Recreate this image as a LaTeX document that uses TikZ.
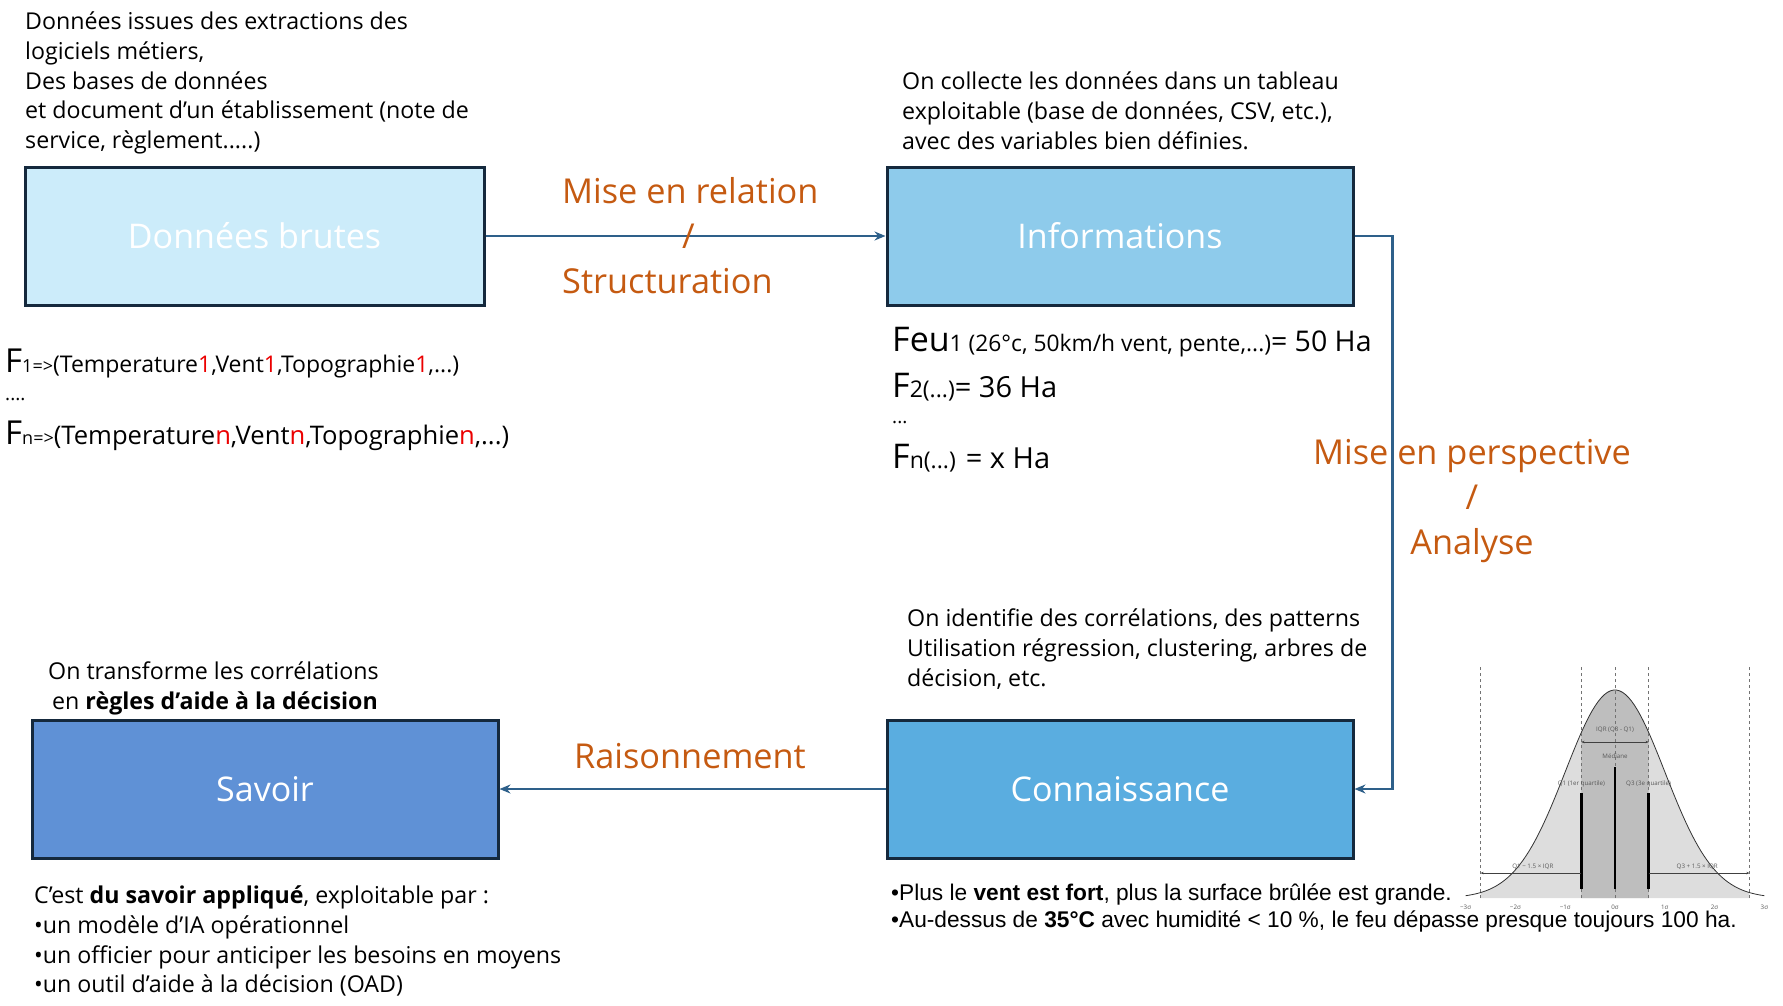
\documentclass[tikz,border=0pt]{standalone}
\usepackage{fontspec}
\setmainfont{Open Sans}
\newfontfamily\arialfont{Liberation Sans}
\usepackage{tikz}
\usetikzlibrary{arrows.meta, positioning}
\definecolor{boxborder}{RGB}{21,41,61}
\definecolor{brutescolor}{RGB}{204,236,250}
\definecolor{infocolor}{RGB}{142,203,235}
\definecolor{conncolor}{RGB}{90,173,224}
\definecolor{savoircolor}{RGB}{95,145,214}
\definecolor{arrowcolor}{RGB}{46,96,138}
\definecolor{labelcolor}{RGB}{197,90,17}
\definecolor{subred}{RGB}{235,0,0}
\definecolor{bellfill}{RGB}{221,221,221}
\definecolor{iqrfill}{RGB}{190,190,190}
\newcommand{\bodysize}{\fontsize{23.2}{29.6}\selectfont}
\newcommand{\titlesize}{\fontsize{34}{40}\selectfont}
\newcommand{\linksize}{\fontsize{34.3}{45}\selectfont}
\newcommand{\redsub}[1]{\textcolor{subred}{#1}}

\begin{document}
\begin{tikzpicture}[
    x=1pt, y=-1pt,
    stage/.style={draw=boxborder, line width=3pt, minimum width=466pt,
                  minimum height=138pt, text=white, font=\titlesize},
    arr/.style={-{Stealth[length=11pt,width=9pt]}, line width=2.4pt, arrowcolor},
    note/.style={anchor=north west, align=left, inner sep=0pt, font=\bodysize},
    link/.style={text=labelcolor, font=\linksize, inner sep=0pt},
    formula/.style={anchor=base west, inner sep=0pt},
    tiny/.style={font=\fontsize{6.2}{7}\selectfont, text=black!65, inner sep=0pt},
    thinarr/.style={-{Stealth[length=3pt,width=2.5pt]}, line width=0.5pt, black!75}
]
\useasboundingbox (0,0) rectangle (1783,1006);
% Stages
\node[stage, fill=brutescolor, minimum width=459pt] (brutes) at (254.5,236) {Données brutes};
\node[stage, fill=infocolor, right=400pt of brutes] (info) {Informations};
\node[stage, fill=conncolor, below=412pt of info] (conn) {Connaissance};
\node[stage, fill=savoircolor, left=386pt of conn] (savoir) {Savoir};
% Notes
\node[note] (txtbrutes) at (25,12) {Données issues des extractions des\\logiciels métiers,\\Des bases de données\\et document d’un établissement (note de\\service, règlement.....)};
\node[note] (txtinfo) at (902,72) {On collecte les données dans un tableau\\exploitable (base de données, CSV, etc.),\\avec des variables bien définies.};
\node[note] (txtconn) at (907,609) {On identifie des corrélations, des patterns\\Utilisation régression, clustering, arbres de\\décision, etc.};
\node[note] (txtsavoir) at (48,662) {On transforme les corrélations\\\hspace*{4pt}en \textbf{règles d’aide à la décision}};
\node[note] (txtapplique) at (34,886) {C’est \textbf{du savoir appliqué}, exploitable par :\\•un modèle d’IA opérationnel\\•un officier pour anticiper les besoins en moyens\\•un outil d’aide à la décision (OAD)};
\node[note, font=\arialfont\fontsize{22.7}{27}\selectfont] (txtresult) at (891,884) {•Plus le \textbf{vent est fort}, plus la surface brûlée est grande.\\•Au-dessus de \textbf{35°C} avec humidité < 10 \%, le feu dépasse presque toujours 100 ha.};
% Formulas
\node[formula] (fleft1) at (5,372) {\fontsize{33}{33}\selectfont F\fontsize{18}{18}\selectfont 1=>\fontsize{23}{23}\selectfont(Temperature\redsub{1},Vent\redsub{1},Topographie\redsub{1},...)};
\node[formula] (fleft2) at (5,400) {\fontsize{19}{19}\selectfont ....};
\node[formula] (fleft3) at (5,444) {\fontsize{33}{33}\selectfont F\fontsize{18}{18}\selectfont n=>\fontsize{25.6}{25.6}\selectfont(Temperature\redsub{n},Vent\redsub{n},Topographie\redsub{n},...)};
\node[formula] (fright1) at (892,351) {\fontsize{34}{34}\selectfont Feu\fontsize{22.8}{22.8}\selectfont 1 (26°c, 50km/h vent, pente,...)\fontsize{28.5}{28.5}\selectfont= 50 Ha};
\node[formula] (fright2) at (892,397) {\fontsize{34}{34}\selectfont F\fontsize{23}{23}\selectfont 2(...)\fontsize{29}{29}\selectfont= 36 Ha};
\node[formula] (fright3) at (892,423) {\fontsize{19}{19}\selectfont ...};
\node[formula] (fright4) at (892,468) {\fontsize{34}{34}\selectfont F\fontsize{23}{23}\selectfont n(...)\fontsize{29}{29}\selectfont{} = x Ha};
% Links
\draw[arr] (brutes.east) -- (info.west);
\draw[arr] (info.east) -- ++(38,0) |- (conn.east);
\draw[arr] (conn.west) -- (savoir.east);
\node[link, anchor=north west, align=left] (relation) at (562,177) {Mise en relation\\\hspace*{120pt}/\\Structuration};
\node[link, anchor=north, align=center] (perspective) at (1472,439) {Mise en perspective\\/\\Analyse};
\node[link, anchor=base] (raisonnement) at (690,768) {Raisonnement};
% Bell curve
\begin{scope}[shift={(1615,898)}, x=49.8pt, y=208pt]
  \fill[bellfill] (-2.698,0) -- plot[domain=-2.698:2.698, samples=80] (\x,{exp(-\x*\x/2)}) -- (2.698,0) -- cycle;
  \fill[iqrfill] (-0.674,0) -- plot[domain=-0.674:0.674, samples=30] (\x,{exp(-\x*\x/2)}) -- (0.674,0) -- cycle;
  \draw[line width=0.8pt, black!80] plot[domain=-3:3, samples=100] (\x,{exp(-\x*\x/2)});
  \foreach \q in {-2.698,-0.674,0,0.674,2.698}
    \draw[dashed, line width=0.4pt, black!55] (\q,0) -- (\q,1.12);
  \foreach \q in {-0.674,0.674}
    \draw[line width=2.2pt] (\q,0.043) -- (\q,0.505);
  \draw[line width=2.2pt] (0,0.043) -- (0,0.63);
  \draw[thinarr, {Stealth[length=3pt,width=2.5pt]}-{Stealth[length=3pt,width=2.5pt]}] (-0.674,0.75) -- (0.674,0.75);
  \draw[thinarr] (-0.674,0.12) -- (-2.698,0.12);
  \draw[thinarr] (0.674,0.12) -- (2.698,0.12);
  \node[tiny] (iqrlab) at (0,0.81) {IQR (Q3 - Q1)};
  \node[tiny] (medlab) at (0,0.68) {Médiane};
  \node[tiny] (q1lab) at (-0.674,0.55) {Q1 (1er quartile)};
  \node[tiny] (q3lab) at (0.674,0.55) {Q3 (3e quartile)};
  \node[tiny] (lowlab) at (-1.65,0.15) {Q1 − 1.5 × IQR};
  \node[tiny] (highlab) at (1.65,0.15) {Q3 + 1.5 × IQR};
  \foreach \s/\t in {-3/−3σ,-2/−2σ,-1/−1σ,0/0σ,1/1σ,2/2σ,3/3σ}
    \node[tiny] at (\s,-0.045) {\t};
\end{scope}
\end{tikzpicture}
\end{document}
